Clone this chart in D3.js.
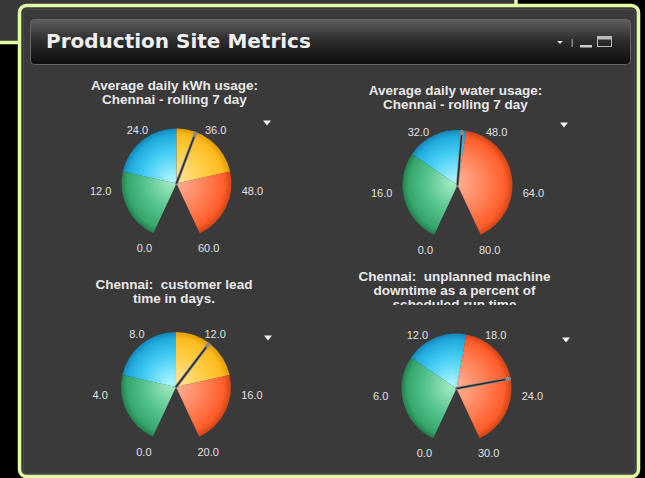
<!DOCTYPE html>
<html>
<head>
<meta charset="utf-8">
<script src="https://cdn.jsdelivr.net/npm/d3@7"></script>
<style>
  html, body { margin: 0; padding: 0; background: #000; overflow: hidden; }
  svg { display: block; }
  text { font-family: "Liberation Sans", Arial, sans-serif; }
</style>
</head>
<body>
<svg id="chart" width="645" height="478"></svg>
<script>
// ---- data ----
const panelTitle = 'Production Site Metrics';

const gaugeTitles = [
  ['Average daily kWh usage:', 'Chennai - rolling 7 day'],
  ['Average daily water usage:', 'Chennai - rolling 7 day'],
  ['Chennai:  customer lead', 'time in days.'],
  ['Chennai:  unplanned machine', 'downtime as a percent of', 'scheduled run time']
];
const gaugeMax = [60, 80, 20, 30];
const gaugeTicks = [
  [0, 12, 24, 36, 48, 60],
  [0, 16, 32, 48, 64, 80],
  [0, 4, 8, 12, 16, 20],
  [0, 6, 12, 18, 24, 30]
];
// band break points, and what kind of band each interval is
const gaugeBreaks = [
  [0, 15, 30, 45, 60],
  [0, 25.6, 42.4, 80],
  [0, 5, 10, 15, 20],
  [0, 9.6, 16, 30]
];
const gaugeBands = [
  ['low', 'normal', 'high', 'critical'],
  ['low', 'normal', 'critical'],
  ['low', 'normal', 'high', 'critical'],
  ['low', 'normal', 'critical']
];
const gaugeValues = [34, 41.2, 12.4, 22.7];

// ---- layout ----
const W = 645, H = 478, R = 55;
const spots = [
  { cx: 176.5, cy: 183.5, ty: 90, mx: 267, my: 123 },
  { cx: 457.5, cy: 185, ty: 95, mx: 564, my: 125 },
  { cx: 176, cy: 387, ty: 289, mx: 268, my: 338 },
  { cx: 456.5, cy: 388.5, ty: 281, mx: 566, my: 340 }
];
const bandColors = {
  low: ['#a6ecc4', '#52c28c', '#36a66c', '#22804e'],
  normal: ['#b0f6ff', '#44cdf4', '#20aadd', '#1686b8'],
  high: ['#ffe8a8', '#ffce48', '#ffbb20', '#e09a06'],
  critical: ['#ffb8a0', '#ff8258', '#ff5e2c', '#d04414']
};

const svg = d3.select('#chart');
const defs = svg.append('defs');

// back window peeking out top-left
svg.append('rect')
  .attr('x', -10).attr('y', -10)
  .attr('width', 526).attr('height', 52.5)
  .attr('fill', '#383838')
  .attr('stroke', '#e2fba6').attr('stroke-width', 3.5);

// main window
svg.append('rect')
  .attr('x', 22).attr('y', 9).attr('width', 620).attr('height', 472)
  .attr('rx', 7).attr('fill', '#000');
svg.append('rect')
  .attr('x', 19.5).attr('y', 5.5).attr('width', 619).attr('height', 471)
  .attr('rx', 7)
  .attr('fill', '#3a3a3a')
  .attr('stroke', '#e2fba6').attr('stroke-width', 3.5);
svg.append('rect')
  .attr('x', 23.5).attr('y', 9.5).attr('width', 611).attr('height', 464)
  .attr('rx', 3)
  .attr('fill', 'none')
  .attr('stroke', '#474747');

// header bar
const hg = defs.append('linearGradient').attr('id', 'hdr')
  .attr('x1', 0).attr('y1', 0).attr('x2', 0).attr('y2', 1);
hg.append('stop').attr('offset', 0).attr('stop-color', '#5e5e5e');
hg.append('stop').attr('offset', 0.45).attr('stop-color', '#2e2e2e');
hg.append('stop').attr('offset', 1).attr('stop-color', '#0c0c0c');
svg.append('rect')
  .attr('x', 30.5).attr('y', 19.5).attr('width', 600).attr('height', 45)
  .attr('rx', 4)
  .attr('fill', 'url(#hdr)')
  .attr('stroke', '#666');
svg.append('text')
  .attr('x', 46).attr('y', 48)
  .attr('fill', '#f0f0f0')
  .style('font-family', '"DejaVu Sans", sans-serif')
  .style('font-weight', 'bold')
  .style('font-size', '20px')
  .text(panelTitle);
// header icons
svg.append('path').attr('d', 'M557,41 L563,41 L560,44 Z').attr('fill', '#ddd');
svg.append('rect').attr('x', 571.5).attr('y', 39).attr('width', 1.5).attr('height', 8).attr('fill', '#888');
svg.append('rect').attr('x', 580).attr('y', 45).attr('width', 12).attr('height', 2.5).attr('fill', '#ccc');
svg.append('rect').attr('x', 597.5).attr('y', 36.5).attr('width', 14).attr('height', 10)
  .attr('fill', 'none').attr('stroke', '#bbb');
svg.append('rect').attr('x', 597).attr('y', 36).attr('width', 15).attr('height', 3.5).attr('fill', '#bbb');

// shaded fills; the wedges are drawn in a translated group, so the
// gradients are centred on 0,0 of that group
Object.keys(bandColors).forEach(k => {
  const c = bandColors[k];
  const rg = defs.append('radialGradient')
    .attr('id', 'g-' + k)
    .attr('gradientUnits', 'userSpaceOnUse')
    .attr('cx', 0).attr('cy', 0).attr('r', R)
    .attr('fx', -5).attr('fy', -3);
  rg.append('stop').attr('offset', 0).attr('stop-color', c[0]);
  rg.append('stop').attr('offset', 0.55).attr('stop-color', c[1]);
  rg.append('stop').attr('offset', 0.88).attr('stop-color', c[2]);
  rg.append('stop').attr('offset', 1).attr('stop-color', c[3]);
});

// ---- gauges ----
const fmt = d3.format('.1f');
const toRad = d => d * Math.PI / 180;

gaugeTitles.forEach((lines, i) => {
  const s = spots[i];
  const angle = d3.scaleLinear().domain([0, gaugeMax[i]]).range([toRad(-155), toRad(155)]);
  const g = svg.append('g');

  const br = gaugeBreaks[i];
  const bands = gaugeBands[i].map((b, j) => ({ band: b, from: br[j], to: br[j + 1] }));
  const arc = d3.arc().innerRadius(0).outerRadius(R);

  g.append('g')
    .attr('transform', `translate(${s.cx},${s.cy})`)
    .selectAll('path')
    .data(bands)
    .enter()
    .append('path')
    .attr('d', d => arc({ startAngle: angle(d.from), endAngle: angle(d.to) }))
    .attr('fill', d => `url(#g-${d.band})`);

  // tick labels round the pie
  g.selectAll('text.tick')
    .data(gaugeTicks[i])
    .enter()
    .append('text')
    .attr('class', 'tick')
    .attr('x', d => s.cx + 76 * Math.sin(angle(d)))
    .attr('y', d => s.cy + 4 - 67 * Math.cos(angle(d)))
    .attr('text-anchor', 'middle')
    .attr('dominant-baseline', 'central')
    .attr('fill', '#e0e0e0')
    .style('font-size', '11px')
    .text(d => fmt(d));

  // needle
  const a = angle(gaugeValues[i]);
  const nx = s.cx + (R - 1) * Math.sin(a), ny = s.cy - (R - 1) * Math.cos(a);
  g.append('line')
    .attr('x1', s.cx).attr('y1', s.cy).attr('x2', nx).attr('y2', ny)
    .attr('stroke', '#8a8a8a').attr('stroke-width', 3).attr('stroke-linecap', 'round');
  g.append('line')
    .attr('x1', s.cx).attr('y1', s.cy).attr('x2', nx).attr('y2', ny)
    .attr('stroke', '#2b2b2b').attr('stroke-width', 1.5);
  g.append('circle')
    .attr('cx', s.cx + (R - 3) * Math.sin(a)).attr('cy', s.cy - (R - 3) * Math.cos(a))
    .attr('r', 2.2).attr('fill', '#8c8c8c');

  // title (last gauge's third line is cut off by the panel)
  const clipId = 'clip' + i;
  defs.append('clipPath').attr('id', clipId)
    .append('rect')
    .attr('x', s.cx - 140).attr('y', s.ty - 30)
    .attr('width', 280).attr('height', i === 3 ? 54 : 70);
  const t = g.append('text')
    .attr('clip-path', `url(#${clipId})`)
    .attr('text-anchor', 'middle')
    .attr('fill', '#e8e8e8')
    .style('font-weight', 'bold')
    .style('font-size', '13.5px')
    .style('white-space', 'pre');
  t.selectAll('tspan')
    .data(lines)
    .enter()
    .append('tspan')
    .attr('x', s.cx - 2)
    .attr('y', (d, j) => s.ty + j * 14)
    .text(d => d);

  // little menu arrow
  g.append('path')
    .attr('d', `M${s.mx - 4},${s.my - 2.5} L${s.mx + 4},${s.my - 2.5} L${s.mx},${s.my + 2.5} Z`)
    .attr('fill', '#f2f2f2');
});
</script>
</body>
</html>
